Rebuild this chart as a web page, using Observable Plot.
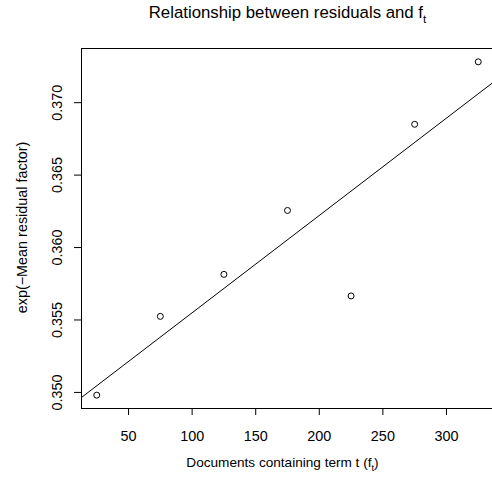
<!DOCTYPE html>
<html>
<head>
<meta charset="utf-8">
<script src="https://cdn.jsdelivr.net/npm/d3@7"></script>
<script src="https://cdn.jsdelivr.net/npm/@observablehq/plot@0.6"></script>
<style>
  html, body { margin: 0; padding: 0; background: white; overflow: hidden; }
</style>
</head>
<body>
<div id="chart"></div>
<script>
// Data
const docs = [25, 75, 125, 175, 225, 275, 325];
const resid = [0.34981, 0.35525, 0.35815, 0.36256, 0.35666, 0.36851, 0.37282];
const xTicks = [50, 100, 150, 200, 250, 300];
const yTicks = [0.350, 0.355, 0.360, 0.365, 0.370];

const titleText = "Relationship between residuals and f_t";
const xLabelText = "Documents containing term t (f_t)";
const yLabelText = "exp(\u2212Mean residual factor)";

const points = docs.map((d, i) => ({docs: d, resid: resid[i]}));

// R-style axis extension (4%)
function rExtent(v) {
  const [lo, hi] = d3.extent(v);
  const e = (hi - lo) * 0.04;
  return [lo - e, hi + e];
}
const xDomain = rExtent(docs);
const yDomain = rExtent(resid);

// least squares fit (abline(lm(...)))
const mx = d3.mean(docs), my = d3.mean(resid);
const slope = d3.sum(docs, (d, i) => (d - mx) * (resid[i] - my)) / d3.sum(docs, d => (d - mx) ** 2);
const intercept = my - slope * mx;
const fitLine = xDomain.map(x => ({docs: x, resid: intercept + slope * x}));

const font = "'Liberation Sans', Arial, Helvetica, sans-serif";

const chart = Plot.plot({
  width: 492,
  height: 479,
  marginLeft: 81,
  marginRight: -1,
  marginTop: 48,
  marginBottom: 71,
  style: {fontFamily: font, fontSize: "14.4px", color: "black", background: "white"},
  x: {domain: xDomain},
  y: {domain: yDomain},
  marks: [
    Plot.frame({stroke: "black", strokeWidth: 1}),
    Plot.axisX({ticks: xTicks, tickSize: 7, tickPadding: 15.5, fontSize: 14.4, label: null, tickFormat: d3.format("d")}),
    Plot.axisY({ticks: yTicks, tickSize: 7, tickPadding: 13, tickRotate: -90, fontSize: 14.4, label: null, tickFormat: d3.format(".3f")}),
    Plot.line(fitLine, {x: "docs", y: "resid", stroke: "black", strokeWidth: 1, clip: true}),
    Plot.dot(points, {x: "docs", y: "resid", r: 3, stroke: "black", strokeWidth: 1, fill: "none"}),
    Plot.text([titleText], {text: d => d, frameAnchor: "top", textAnchor: "middle", lineAnchor: "bottom", dy: -30.7, fontSize: 16.8}),
    Plot.text([xLabelText], {text: d => d, frameAnchor: "bottom", textAnchor: "middle", lineAnchor: "bottom", dy: 58, dx: -5, fontSize: 13.6}),
    Plot.text([yLabelText], {text: d => d, frameAnchor: "left", textAnchor: "middle", lineAnchor: "bottom", rotate: -90, dx: -55, dy: -1, fontSize: 14.4})
  ]
});

// turn "_t" into a real subscript
d3.select(chart).selectAll("text").each(function() {
  const el = this;
  const s = el.textContent;
  if (!s.includes("_t")) return;
  const fs = parseFloat(el.getAttribute("font-size") || d3.select(el.parentNode).attr("font-size") || 14.4) || 14.4;
  const parts = s.split("_t");
  el.textContent = "";
  const sel = d3.select(el);
  const shift = fs * 0.3;
  parts.forEach((p, i) => {
    if (i > 0) {
      sel.append("tspan").attr("dy", shift).attr("font-size", fs * 0.7).text("t");
      if (p.length) sel.append("tspan").attr("dy", -shift).text(p);
    } else if (p.length) {
      sel.append("tspan").text(p);
    }
  });
});

document.getElementById("chart").appendChild(chart);
</script>
</body>
</html>
